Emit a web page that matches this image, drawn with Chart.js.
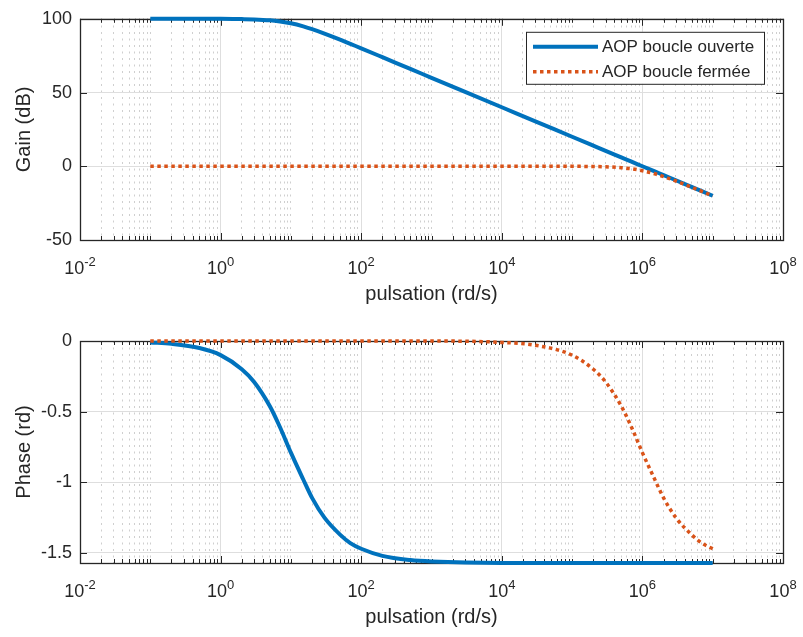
<!DOCTYPE html>
<html>
<head>
<meta charset="utf-8">
<title>Bode AOP</title>
<script src="https://cdn.jsdelivr.net/npm/chart.js@4.4.0/dist/chart.umd.min.js"></script>
<style>
  html, body { margin: 0; padding: 0; background: #fff; }
  canvas { position: absolute; left: 0; }
  #gain { top: 0; }
  #phase { top: 320px; }
</style>
</head>
<body>
<canvas id="gain" width="803" height="320"></canvas>
<canvas id="phase" width="803" height="317"></canvas>
<script>
// pulsations (rd/s) where the curves were read
const pulsation = [0.1, 0.2, 0.5, 1, 2, 3, 5, 7, 10, 15, 20, 30, 50, 70, 100, 200, 500, 1e3,
  1e4, 3e4, 1e5, 2e5, 3e5, 5e5, 7e5, 1e6, 1.5e6, 2e6, 3e6, 5e6, 7e6, 1e7];

// gain in dB
const gainOpen = [100, 100, 100, 100, 99.8, 99.6, 99, 98.2, 97, 94.9, 93, 90, 85.9, 83, 80, 74, 66, 60,
  40, 30.5, 20, 14, 10.5, 6, 3.1, 0, -3.5, -6, -9.5, -14, -16.9, -20];
const gainClosed = [0, 0, 0, 0, 0, 0, 0, 0, 0, 0, 0, 0, 0, 0, 0, 0, 0, 0,
  0, 0, -0.04, -0.17, -0.37, -0.97, -1.7, -3, -5.1, -7, -10, -14.2, -17, -20];

// phase in rd
const phaseOpen = [-0.01, -0.02, -0.05, -0.1, -0.2, -0.29, -0.46, -0.61, -0.79, -0.98, -1.11, -1.25, -1.37, -1.43, -1.47, -1.52, -1.55, -1.56,
  -1.57, -1.57, -1.57, -1.57, -1.57, -1.57, -1.57, -1.57, -1.57, -1.57, -1.57, -1.57, -1.57, -1.57];
const phaseClosed = [0, 0, 0, 0, 0, 0, 0, 0, 0, 0, 0, 0, 0, 0, 0, 0, 0, 0,
  -0.01, -0.03, -0.1, -0.2, -0.29, -0.46, -0.61, -0.79, -0.98, -1.11, -1.25, -1.37, -1.43, -1.47];

const seriesNames = ['AOP boucle ouverte', 'AOP boucle fermée'];
const gainTicks = [-50, 0, 50, 100];
const phaseTicks = [-1.5, -1, -0.5, 0];
const decadeExponents = [-2, 0, 2, 4, 6, 8];   // labelled powers of ten

const FONT = '"Liberation Sans", Arial, Helvetica, sans-serif';
const INK = '#262626';
Chart.defaults.font.family = FONT;

// every 1..9 x 10^k between 1e-2 and 1e8
const logTicks = [];
for (let k = -2; k < 8; k++) {
  for (let m = 1; m < 10; m++) logTicks.push(m * Math.pow(10, k));
}
logTicks.push(1e8);
const isMajor = v => {
  const e = Math.log10(v);
  return Math.abs(e - Math.round(e)) < 1e-9 && Math.round(e) % 2 === 0;
};

// box, inward tick marks, x labels with exponents, legend
const frame = {
  id: 'frame',
  beforeDatasetsDraw(chart) {
    const { ctx, chartArea: a, scales: { x, y } } = chart;
    ctx.save();
    ctx.strokeStyle = INK;
    ctx.lineWidth = 1;
    ctx.beginPath();
    logTicks.forEach(v => {
      const px = Math.round(x.getPixelForValue(v)) + 0.5;
      const len = isMajor(v) ? 7 : 4;
      ctx.moveTo(px, a.bottom); ctx.lineTo(px, a.bottom - len);
      ctx.moveTo(px, a.top); ctx.lineTo(px, a.top + len);
    });
    y.ticks.forEach(t => {
      const py = Math.round(y.getPixelForValue(t.value)) + 0.5;
      ctx.moveTo(a.left, py); ctx.lineTo(a.left + 7, py);
      ctx.moveTo(a.right, py); ctx.lineTo(a.right - 7, py);
    });
    ctx.stroke();
    ctx.lineWidth = 1.3;
    ctx.strokeRect(Math.round(a.left) + 0.5, Math.round(a.top) + 0.5,
      Math.round(a.right - a.left), Math.round(a.bottom - a.top));
    ctx.restore();
  },
  afterDraw(chart, args, opts) {
    const { ctx, chartArea: a, scales: { x } } = chart;
    ctx.save();
    ctx.fillStyle = INK;
    ctx.textBaseline = 'alphabetic';
    decadeExponents.forEach(e => {
      const px = x.getPixelForValue(Math.pow(10, e));
      ctx.font = '18px ' + FONT;
      const wBase = ctx.measureText('10').width;
      ctx.font = '13px ' + FONT;
      const wExp = ctx.measureText(String(e)).width;
      const x0 = px - (wBase + wExp) / 2;
      ctx.font = '18px ' + FONT;
      ctx.fillText('10', x0, a.bottom + 34);
      ctx.font = '13px ' + FONT;
      ctx.fillText(String(e), x0 + wBase, a.bottom + 26);
    });

    if (opts.legend) {
      const bx = a.right - 257, by = a.top + 13, bw = 238, bh = 52;
      ctx.fillStyle = '#fff';
      ctx.fillRect(bx, by, bw, bh);
      ctx.strokeStyle = INK;
      ctx.lineWidth = 1;
      ctx.strokeRect(bx + 0.5, by + 0.5, bw, bh);
      ctx.font = '17px ' + FONT;
      ctx.textBaseline = 'middle';
      chart.data.datasets.forEach((ds, i) => {
        const ly = by + 15 + i * 25;
        ctx.save();
        ctx.strokeStyle = ds.borderColor;
        ctx.lineWidth = ds.borderWidth;
        ctx.setLineDash(ds.borderDash || []);
        ctx.beginPath();
        ctx.moveTo(bx + 7, ly); ctx.lineTo(bx + 72, ly);
        ctx.stroke();
        ctx.restore();
        ctx.fillStyle = INK;
        ctx.fillText(ds.label, bx + 76, ly + 1);
      });
    }
    ctx.restore();
  }
};

function bodeChart(id, openVals, closedVals, yMin, yMax, yTicks, yTitle, top, xHeight, titlePad, legend) {
  return new Chart(document.getElementById(id), {
    type: 'line',
    data: {
      datasets: [
        {
          label: seriesNames[0],
          data: pulsation.map((w, i) => ({ x: w, y: openVals[i] })),
          borderColor: '#0072BD', borderWidth: 4,
          pointRadius: 0, cubicInterpolationMode: 'monotone', clip: false, order: 1
        },
        {
          label: seriesNames[1],
          data: pulsation.map((w, i) => ({ x: w, y: closedVals[i] })),
          borderColor: '#D95319', borderWidth: 3.5, borderDash: [3.5, 3.5],
          pointRadius: 0, cubicInterpolationMode: 'monotone', clip: false, order: 0
        }
      ]
    },
    options: {
      responsive: false,
      animation: false,
      events: [],
      layout: { padding: { top: top, right: 20, left: 0, bottom: 0 } },
      plugins: { legend: { display: false }, tooltip: { enabled: false }, frame: { legend: legend } },
      scales: {
        x: {
          type: 'logarithmic', position: 'bottom', min: 1e-2, max: 1e8,
          afterBuildTicks: s => { s.ticks = logTicks.filter(isMajor).map(v => ({ value: v })); },
          afterFit: s => { s.height = xHeight; },
          ticks: { display: false },
          grid: { color: '#dedede', lineWidth: 1, drawTicks: false },
          border: { display: false },
          title: {
            display: true, text: 'pulsation (rd/s)', color: INK,
            font: { size: 20 }, padding: { top: 0, bottom: titlePad }
          }
        },
        xMinor: {
          type: 'logarithmic', position: 'top', min: 1e-2, max: 1e8,
          afterBuildTicks: s => { s.ticks = logTicks.filter(v => !isMajor(v)).map(v => ({ value: v })); },
          afterFit: s => { s.height = 0; },
          ticks: { display: false },
          grid: { color: 'rgba(38,38,38,0.22)', lineWidth: 1, drawTicks: false },
          border: { display: false, dash: [2, 4.5] }
        },
        y: {
          min: yMin, max: yMax,
          afterBuildTicks: s => { s.ticks = yTicks.map(v => ({ value: v })); },
          afterFit: s => { s.width = 80; },
          ticks: { color: INK, font: { size: 18 }, padding: 8, callback: v => String(v) },
          grid: { color: '#dedede', lineWidth: 1, drawTicks: false },
          border: { display: false },
          title: {
            display: true, text: yTitle, color: INK,
            font: { size: 20 }, padding: { top: 12.5, bottom: 0 }
          }
        }
      }
    },
    plugins: [frame]
  });
}

bodeChart('gain', gainOpen, gainClosed, -50, 100, gainTicks, 'Gain (dB)', 16, 80, 14, true);
bodeChart('phase', phaseOpen, phaseClosed, -Math.PI / 2, 0, phaseTicks, 'Phase (rd)', 21, 74, 8, false);
</script>
</body>
</html>
